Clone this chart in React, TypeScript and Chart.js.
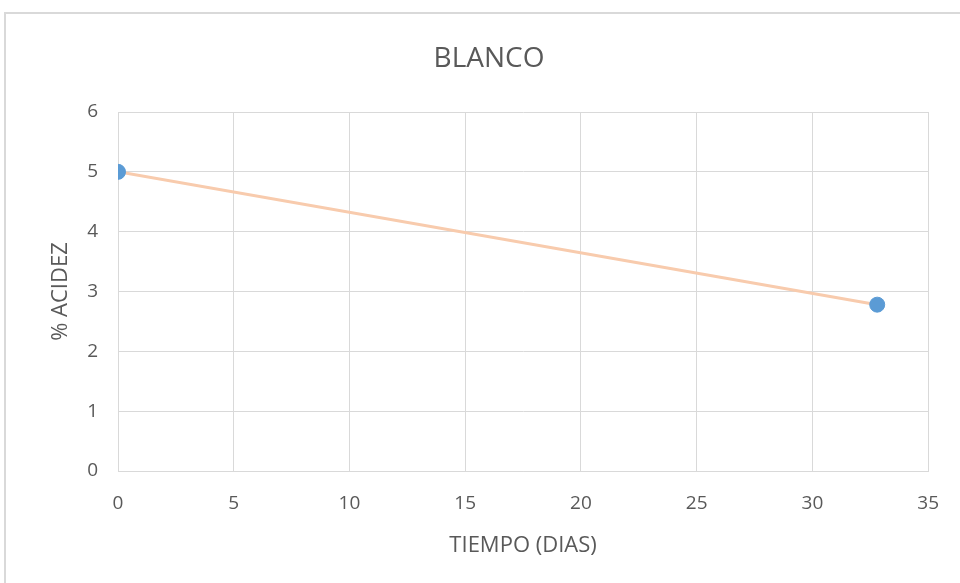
import React, { useEffect, useRef } from "react";
import { Chart, registerables } from "chart.js";

Chart.register(...registerables);

// Measured acidity over time
const dias: number[] = [0, 32.8];
const acidez: number[] = [5, 2.78];

// Axis ranges and ticks
const xTicks: number[] = [0, 5, 10, 15, 20, 25, 30, 35];
const yTicks: number[] = [0, 1, 2, 3, 4, 5, 6];

const TITLE = "BLANCO";
const X_TITLE = "TIEMPO (DIAS)";
const Y_TITLE = "% ACIDEZ";

const FONT = "'Open Sans', 'Noto Sans', sans-serif";
const TEXT = "#595959";
const GRID = "#d9d9d9";

// Least-squares linear trend over the measured points
function linearTrend(xs: number[], ys: number[]) {
  const n = xs.length;
  const mx = xs.reduce((a, b) => a + b, 0) / n;
  const my = ys.reduce((a, b) => a + b, 0) / n;
  let num = 0;
  let den = 0;
  for (let i = 0; i < n; i++) {
    num += (xs[i] - mx) * (ys[i] - my);
    den += (xs[i] - mx) * (xs[i] - mx);
  }
  const slope = den === 0 ? 0 : num / den;
  const intercept = my - slope * mx;
  const x0 = Math.min(...xs);
  const x1 = Math.max(...xs);
  return [
    { x: x0, y: intercept + slope * x0 },
    { x: x1, y: intercept + slope * x1 },
  ];
}

// Light frame around the chart object, plus the chart title centred on the object
const framePlugin = {
  id: "frameAndTitle",
  beforeDraw(chart: any) {
    const { ctx } = chart;
    ctx.save();
    ctx.strokeStyle = GRID;
    ctx.lineWidth = 2;
    ctx.beginPath();
    ctx.moveTo(5, chart.height);
    ctx.lineTo(5, 13);
    ctx.lineTo(chart.width, 13);
    ctx.stroke();

    ctx.fillStyle = TEXT;
    ctx.font = `28px ${FONT}`;
    ctx.textAlign = "center";
    ctx.textBaseline = "middle";
    ctx.fillText(TITLE, 489, 59);
    ctx.restore();
  },
};

export default function App() {
  const canvasRef = useRef<HTMLCanvasElement | null>(null);

  useEffect(() => {
    if (!canvasRef.current) return;
    const points = dias.map((d, i) => ({ x: d, y: acidez[i] }));
    const chart = new Chart(canvasRef.current, {
      type: "scatter",
      data: {
        datasets: [
          {
            label: "Acidez",
            data: points,
            backgroundColor: "#5B9BD5",
            borderColor: "#5B9BD5",
            pointRadius: 7.5,
            pointHoverRadius: 7.5,
            order: 0,
          },
          {
            label: "Tendencia",
            data: linearTrend(dias, acidez),
            showLine: true,
            borderColor: "#F8CBAD",
            borderWidth: 3,
            pointRadius: 0,
            fill: false,
            order: 1,
          },
        ],
      },
      options: {
        animation: false,
        responsive: false,
        layout: { padding: { left: 0, right: 31, top: 112, bottom: 0 } },
        plugins: {
          legend: { display: false },
          tooltip: { enabled: false },
          title: { display: false },
        },
        scales: {
          x: {
            type: "linear",
            min: 0,
            max: 35,
            afterBuildTicks: (s: any) => {
              s.ticks = xTicks.map((v) => ({ value: v }));
            },
            afterFit: (s: any) => {
              s.height = 112;
            },
            grid: { color: GRID, drawTicks: false },
            border: { color: GRID },
            ticks: {
              color: TEXT,
              font: { family: FONT, size: 19 },
              padding: 21,
            },
            title: {
              display: true,
              text: X_TITLE,
              color: TEXT,
              font: { family: FONT, size: 22 },
              padding: { top: 0, bottom: 24 },
            },
          },
          y: {
            type: "linear",
            min: 0,
            max: 6,
            afterBuildTicks: (s: any) => {
              s.ticks = yTicks.map((v) => ({ value: v }));
            },
            afterFit: (s: any) => {
              s.width = 118;
            },
            grid: { color: GRID, drawTicks: false },
            border: { color: GRID },
            ticks: {
              color: TEXT,
              font: { family: FONT, size: 19 },
              padding: 20,
            },
            title: {
              display: true,
              text: Y_TITLE,
              color: TEXT,
              font: { family: FONT, size: 22 },
              padding: { top: 48, bottom: 0 },
            },
          },
        },
      },
      plugins: [framePlugin],
    });
    return () => chart.destroy();
  }, []);

  return (
    <div
      style={{
        position: "fixed",
        left: 0,
        top: 0,
        width: 960,
        height: 583,
        background: "#ffffff",
      }}
    >
      <canvas ref={canvasRef} width={960} height={583} />
    </div>
  );
}
